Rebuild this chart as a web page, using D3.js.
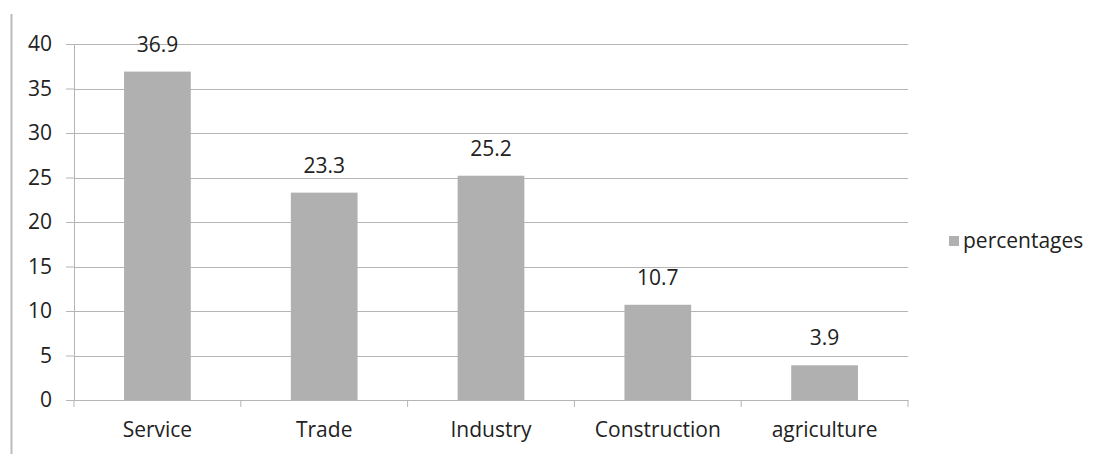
<!DOCTYPE html>
<html><head><meta charset="utf-8">
<script src="https://cdn.jsdelivr.net/npm/d3@7"></script>
<style>body{margin:0;background:#fff}svg{display:block}text{font-family:"Open Sans","Liberation Sans",sans-serif;fill:#222}</style>
</head><body><svg id="c" width="1105" height="454"></svg>
<script>
const categories = ["Service","Trade","Industry","Construction","agriculture"];
const values = [36.9,23.3,25.2,10.7,3.9];
const yTicks = [0,5,10,15,20,25,30,35,40];
const seriesName = "percentages";

(function(){
const FS = 21;
const svg = d3.select("#c");
const mL = 74, mR = 908, mT = 44, mB = 400;
const xb = d3.scaleBand().domain(categories).range([mL,mR]);
const y = d3.scaleLinear().domain([0,40]).range([mB,mT]);

svg.append("line").attr("x1",11.5).attr("x2",11.5).attr("y1",14).attr("y2",454).attr("stroke","#bbb").attr("stroke-width",2);

svg.append("g").selectAll("line").data(yTicks.filter(d=>d>0)).join("line")
  .attr("x1",mL).attr("x2",mR).attr("y1",d=>Math.round(y(d))+0.5).attr("y2",d=>Math.round(y(d))+0.5)
  .attr("stroke","#b5b5b5").attr("stroke-width",1.2);

const ya = svg.append("g").attr("transform",`translate(${mL},0)`)
  .call(d3.axisLeft(y).tickValues(yTicks).tickSize(8).tickPadding(14));
ya.attr("font-size",null).attr("font-family",null);
ya.select(".domain").attr("stroke","#b5b5b5");
ya.selectAll(".tick line").attr("stroke","#b5b5b5");
ya.selectAll("text").style("font-size",FS+"px").attr("fill","#222");

svg.append("g").selectAll("rect").data(values).join("rect")
  .attr("x",(d,i)=>xb(categories[i])+xb.bandwidth()*0.3)
  .attr("width",xb.bandwidth()*0.4)
  .attr("y",d=>y(d)).attr("height",d=>mB-y(d))
  .attr("fill","#b0b0b0");

const xa = svg.append("g").attr("transform",`translate(0,${mB})`)
  .call(d3.axisBottom(xb).tickSize(0).tickPadding(22));
xa.attr("font-size",null).attr("font-family",null);
xa.select(".domain").attr("stroke","#b5b5b5").attr("stroke-width",1.2);
xa.selectAll("text").style("font-size",FS+"px").attr("fill","#222");
svg.append("g").selectAll("line").data(d3.range(categories.length+1)).join("line")
  .attr("x1",i=>mL+i*xb.step()).attr("x2",i=>mL+i*xb.step())
  .attr("y1",mB).attr("y2",mB+7).attr("stroke","#b5b5b5");

svg.append("g").selectAll("text").data(values).join("text")
  .attr("x",(d,i)=>xb(categories[i])+xb.bandwidth()/2)
  .attr("y",d=>y(d)-20)
  .attr("text-anchor","middle").style("font-size",FS+"px")
  .text(d=>d.toFixed(1));

svg.append("rect").attr("x",949).attr("y",236).attr("width",10).attr("height",10).attr("fill","#b0b0b0");
svg.append("text").attr("x",963).attr("y",248).style("font-size",FS+"px").text(seriesName);
})();
</script></body></html>
